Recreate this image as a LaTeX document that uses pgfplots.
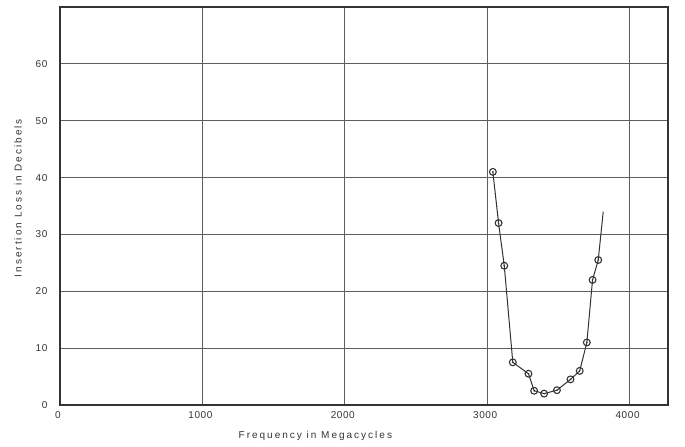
\documentclass[border=0pt]{standalone}
\usepackage{pgfplots}
\pgfplotsset{compat=1.18}
\usetikzlibrary{calc}
\usepackage{fontspec}
\setmainfont{Liberation Sans}
\newfontfamily\labfont{Liberation Sans}[LetterSpace=20]
\newfontfamily\tickfont{Liberation Sans}[LetterSpace=6]
\definecolor{ink}{HTML}{333333}
\definecolor{gridc}{HTML}{5E5E5E}
\begin{document}
\begin{tikzpicture}
\begin{axis}[
  name=ax,
  scale only axis,
  width=608pt, height=398pt,
  xmin=0, xmax=4270, ymin=0, ymax=70,
  xtick={0,1000,2000,3000,4000},
  ytick={0,10,20,30,40,50,60},
  xticklabels={0,1000,2000,3000,4000},
  yticklabels={0,10,20,30,40,50,60},
  major tick length=0pt,
  grid=major,
  major grid style={gridc, line width=0.8pt},
  axis line style={ink, line width=1.1pt},
  tick label style={font=\tickfont\fontsize{10}{11}\selectfont, text=ink},
  xticklabel style={yshift=-3pt, xshift=-2pt},
  yticklabel style={xshift=-9pt},
  xlabel={Frequency in Megacycles},
  ylabel={Insertion Loss in Decibels},
  label style={font=\labfont\fontsize{10}{11}\selectfont, text=ink},
  xlabel style={at={(rel axis cs:0.42,0)}, anchor=center, yshift=-31pt},
  ylabel style={at={(rel axis cs:0,0.52)}, anchor=center, yshift=42pt},
]
\addplot[ink, line width=1pt, no marks] coordinates {
 (3040,41) (3080,32) (3120,24.5) (3180,7.5) (3290,5.5) (3330,2.5)
 (3400,2) (3490,2.6) (3585,4.5) (3650,6) (3700,11) (3740,22)
 (3780,25.5) (3815,34)
};
\addplot[only marks, mark=o, mark size=3.4pt, mark options={ink, line width=1.1pt, fill=white}] coordinates {
 (3040,41) (3080,32) (3120,24.5) (3180,7.5) (3290,5.5) (3330,2.5)
 (3400,2) (3490,2.6) (3585,4.5) (3650,6) (3700,11) (3740,22)
 (3780,25.5)
};
\addplot[only marks, mark=*, mark size=0.6pt, mark options={ink}] coordinates {
 (3040,41) (3080,32) (3120,24.5) (3180,7.5) (3290,5.5) (3330,2.5)
 (3400,2) (3490,2.6) (3585,4.5) (3650,6) (3700,11) (3740,22)
 (3780,25.5)
};
\end{axis}
\pgfresetboundingbox
\path ($(ax.south west)+(-60pt,-42pt)$) rectangle ($(ax.north east)+(17pt,7pt)$);
\end{tikzpicture}
\end{document}
